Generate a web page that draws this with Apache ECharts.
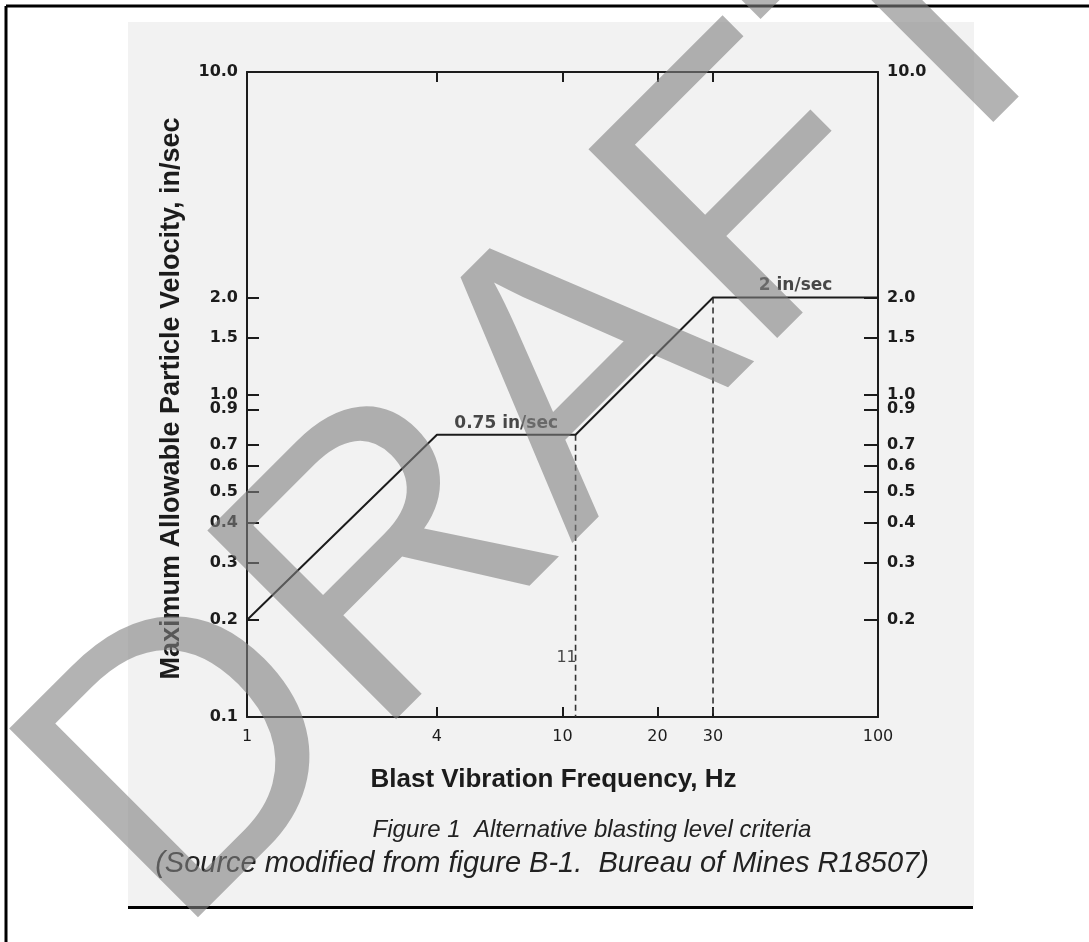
<!DOCTYPE html>
<html>
<head>
<meta charset="utf-8">
<script src="https://cdn.jsdelivr.net/npm/echarts@6/dist/echarts.min.js"></script>
<style>
  html, body { margin: 0; padding: 0; background: #ffffff; }
  #chart { width: 1089px; height: 942px; }
</style>
</head>
<body>
<div id="chart"></div>
<script>
// Criteria curve: blast vibration frequency (Hz) vs allowable particle velocity (in/sec)
const freqHz = [1, 4, 11, 30, 100];
const velocityInSec = [0.2, 0.75, 0.75, 2.0, 2.0];

// Dashed guides dropped from the curve's corners down to the frequency axis
const guideFreqHz = [11, 30];
const guideTopVel = [0.75, 2.0];
const axisFloorVel = 0.1;

// Plateau annotations (placed at the log-midpoint of each flat segment)
const plateauText = ['0.75 in/sec', '2 in/sec'];
const plateauFreqHz = [6.63, 54.8];
const plateauVel = [0.75, 2.0];

// Frequency marker written beside the first guide
const guideText = ['11'];
const guideTextFreqHz = [11];
const guideTextVel = [0.15];

// Axis ticks and labels
const xTickHz = [4, 10, 20, 30];
const xLabelHz = [1, 4, 10, 20, 30, 100];
const yTickVel = [0.2, 0.3, 0.4, 0.5, 0.6, 0.7, 0.9, 1.0, 1.5, 2.0];
const yLabelLeft = [0.1, 0.2, 0.3, 0.4, 0.5, 0.6, 0.7, 0.9, 1.0, 1.5, 2.0, 10.0];
const yLabelRight = [0.2, 0.3, 0.4, 0.5, 0.6, 0.7, 0.9, 1.0, 1.5, 2.0, 10.0];

// Text
const xAxisTitle = 'Blast Vibration Frequency, Hz';
const yAxisTitle = 'Maximum Allowable Particle Velocity, in/sec';
const captionLines = [
  'Figure 1  Alternative blasting level criteria',
  '(Source modified from figure B-1.  Bureau of Mines R18507)'
];
const watermarkText = 'DRAFT';

const INK = '#1c1c1c';
const SANS = '"Liberation Sans", Arial, sans-serif';
const WIDE = '"DejaVu Sans", Verdana, sans-serif';
const TICK_FONT = { color: INK, fontFamily: WIDE, fontWeight: 'bold', fontSize: 16 };

const chart = echarts.init(document.getElementById('chart'), null, { renderer: 'canvas' });

const frameLine = { show: true, lineStyle: { color: INK, width: 2 } };
const inwardTick = (values, len) => ({
  show: true, inside: true, length: len, customValues: values,
  lineStyle: { color: INK, width: 2 }
});

function curvePoints() {
  return freqHz.map((f, i) => [f, velocityInSec[i]]);
}

const guideSeries = guideFreqHz.map((f, i) => ({
  type: 'line',
  xAxisIndex: 0, yAxisIndex: 0,
  data: [[f, guideTopVel[i]], [f, axisFloorVel]],
  symbol: 'none',
  silent: true,
  lineStyle: { color: '#333333', width: 1.6, type: [6, 4] },
  z: 3
}));

const option = {
  backgroundColor: '#ffffff',
  animation: false,
  grid: { left: 247, right: 211, top: 72, bottom: 225, containLabel: false },
  xAxis: [
    {
      type: 'log', logBase: 10, min: 1, max: 100, position: 'bottom',
      axisLine: frameLine,
      axisTick: inwardTick(xTickHz, 10),
      minorTick: { show: false },
      splitLine: { show: false },
      axisLabel: Object.assign({}, TICK_FONT, { customValues: xLabelHz, margin: 12, hideOverlap: false,
        fontWeight: 'normal', formatter: v => String(Math.round(v)) }),
      name: xAxisTitle, nameLocation: 'middle', nameGap: 50,
      nameTextStyle: { color: INK, fontFamily: SANS, fontWeight: 'bold', fontSize: 26, padding: [0, 18, 0, 0] }
    },
    {
      type: 'log', logBase: 10, min: 1, max: 100, position: 'top',
      axisLine: frameLine,
      axisTick: inwardTick(xTickHz, 10),
      splitLine: { show: false },
      axisLabel: { show: false }
    }
  ],
  yAxis: [
    {
      type: 'log', logBase: 10, min: 0.1, max: 10, position: 'left',
      axisLine: frameLine,
      axisTick: inwardTick(yTickVel, 12),
      splitLine: { show: false },
      axisLabel: Object.assign({}, TICK_FONT, { customValues: yLabelLeft, margin: 9, hideOverlap: false,
        formatter: v => Number(v).toFixed(1) }),
      name: yAxisTitle, nameLocation: 'middle', nameGap: 62, nameRotate: 90,
      nameTextStyle: { color: INK, fontFamily: SANS, fontWeight: 'bold', fontSize: 27, padding: [0, 8, 0, 0] }
    },
    {
      type: 'log', logBase: 10, min: 0.1, max: 10, position: 'right',
      axisLine: frameLine,
      axisTick: inwardTick(yTickVel, 14),
      splitLine: { show: false },
      axisLabel: Object.assign({}, TICK_FONT, { customValues: yLabelRight, margin: 9, hideOverlap: false,
        formatter: v => Number(v).toFixed(1) })
    }
  ],
  series: [
    {
      type: 'line',
      name: 'Allowable velocity',
      xAxisIndex: 0, yAxisIndex: 0,
      data: curvePoints(),
      symbol: 'none',
      lineStyle: { color: INK, width: 2 },
      z: 4
    },
    ...guideSeries,
    {
      type: 'scatter',
      xAxisIndex: 0, yAxisIndex: 0,
      symbolSize: 0,
      silent: true,
      data: plateauText.map((t, i) => ({ name: t, value: [plateauFreqHz[i], plateauVel[i]] })),
      label: Object.assign({}, TICK_FONT, { show: true, position: 'top', distance: 3, fontSize: 17, formatter: p => p.name }),
      z: 5
    },
    {
      type: 'scatter',
      xAxisIndex: 0, yAxisIndex: 0,
      symbolSize: 0,
      silent: true,
      data: guideText.map((t, i) => ({ name: t, value: [guideTextFreqHz[i], guideTextVel[i]] })),
      label: Object.assign({}, TICK_FONT, { show: true, position: 'inside', offset: [-9, -2], fontWeight: 'normal', formatter: p => p.name }),
      z: 5
    }
  ],
  graphic: [
    // scanned page area
    { type: 'rect', z: -10, silent: true, shape: { x: 128, y: 22, width: 846, height: 884 }, style: { fill: '#f2f2f2' } },
    // document frame
    { type: 'line', z: 10, silent: true, shape: { x1: 6, y1: 6, x2: 1089, y2: 6 }, style: { stroke: '#000', lineWidth: 3 } },
    { type: 'line', z: 10, silent: true, shape: { x1: 6, y1: 6, x2: 6, y2: 942 }, style: { stroke: '#000', lineWidth: 3 } },
    // rule under caption
    { type: 'line', z: 10, silent: true, shape: { x1: 128, y1: 907.5, x2: 973, y2: 907.5 }, style: { stroke: '#000', lineWidth: 3 } },
    // caption
    { type: 'text', z: 10, silent: true, x: 592, y: 830,
      style: { text: captionLines[0], fill: '#222', font: 'italic 24px ' + SANS, align: 'center', verticalAlign: 'middle' } },
    { type: 'text', z: 10, silent: true, x: 542, y: 864,
      style: { text: captionLines[1], fill: '#222', font: 'italic 29px ' + SANS, align: 'center', verticalAlign: 'middle' } },
    // watermark
    { type: 'text', z: 100, silent: true, x: 557, y: 407, rotation: Math.PI / 4,
      style: { text: watermarkText, fill: 'rgba(128,128,128,0.6)', font: 'normal 388px ' + SANS, align: 'center', verticalAlign: 'middle' } }
  ]
};

chart.setOption(option);
</script>
</body>
</html>
